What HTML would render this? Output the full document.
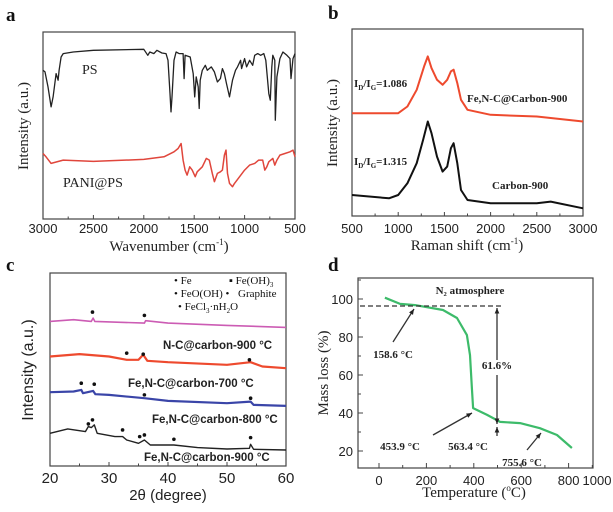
<!DOCTYPE html>
<html><head><meta charset="utf-8"><style>
body{margin:0;background:#fff;}
svg{display:block;}
.tk{font-family:"Liberation Sans",sans-serif;font-size:13px;fill:#222;}
.tt{font-family:"Liberation Serif",serif;font-size:15px;fill:#222;}
.an{font-family:"Liberation Serif",serif;font-size:11px;font-weight:bold;fill:#222;}
.lt{font-family:"Liberation Serif",serif;font-size:19px;font-weight:bold;fill:#111;}
</style></head><body>
<svg id="fig" width="613" height="512" viewBox="0 0 613 512" xmlns="http://www.w3.org/2000/svg">
<g>
<text class="lt" x="6" y="21">a</text>
<text class="tt" x="169" y="251" text-anchor="middle">Wavenumber (cm<tspan dy="-6" font-size="9">-1</tspan><tspan dy="6">)</tspan></text>
<text class="tt" transform="translate(28,126) rotate(-90)" text-anchor="middle">Intensity (a.u.)</text>
<text class="an" x="82" y="74" style="font-weight:normal;font-size:14px">PS</text>
<text class="an" x="63" y="187" style="font-weight:normal;font-size:14px">PANI@PS</text>
</g>
<g>
<text class="lt" x="328" y="19">b</text>
<text class="tt" x="467" y="250" text-anchor="middle">Raman shift (cm<tspan dy="-6" font-size="9">-1</tspan><tspan dy="6">)</tspan></text>
<text class="tt" transform="translate(337,123) rotate(-90)" text-anchor="middle">Intensity (a.u.)</text>
<text class="an" x="354" y="87">I<tspan font-size="7" dy="3">D</tspan><tspan dy="-3">/I</tspan><tspan font-size="7" dy="3">G</tspan><tspan dy="-3">=1.086</tspan></text>
<text class="an" x="467" y="102">Fe,N-C@Carbon-900</text>
<text class="an" x="354" y="165">I<tspan font-size="7" dy="3">D</tspan><tspan dy="-3">/I</tspan><tspan font-size="7" dy="3">G</tspan><tspan dy="-3">=1.315</tspan></text>
<text class="an" x="492" y="189">Carbon-900</text>
</g>
<g>
<text class="lt" x="6" y="271">c</text>
<text x="168" y="500" text-anchor="middle" style="font-family:'Liberation Sans',sans-serif;font-size:15px;fill:#222">2θ (degree)</text>
<text transform="translate(33,370) rotate(-90)" text-anchor="middle" style="font-family:'Liberation Sans',sans-serif;font-size:16px;fill:#222">Intensity (a.u.)</text>
<g style="font-family:'Liberation Serif',serif;font-size:11px;fill:#111">
<text x="174" y="284">• Fe</text>
<text x="229" y="284">▪ Fe(OH)<tspan font-size="7" dy="3">3</tspan></text>
<text x="174" y="297">• FeO(OH) •</text>
<text x="238" y="297">Graphite</text>
<text x="178" y="310">• FeCl<tspan font-size="7" dy="3">3</tspan><tspan dy="-3">·nH</tspan><tspan font-size="7" dy="3">2</tspan><tspan dy="-3">O</tspan></text>
</g>
<g style="font-family:'Liberation Sans',sans-serif;font-size:11.5px;font-weight:bold;fill:#222">
<text x="163" y="349">N-C@carbon-900 °C</text>
<text x="128" y="387">Fe,N-C@carbon-700 °C</text>
<text x="152" y="423">Fe,N-C@carbon-800 °C</text>
<text x="144" y="461">Fe,N-C@carbon-900 °C</text>
</g>
</g>
<g>
<text class="lt" x="328" y="271">d</text>
<text class="tt" x="474" y="497" text-anchor="middle">Temperature (<tspan dy="-6" font-size="9">o</tspan><tspan dy="6">C)</tspan></text>
<text class="tt" transform="translate(328,373) rotate(-90)" text-anchor="middle">Mass loss (%)</text>
</g>
</svg>
<script>
// ---- Panel a data (FTIR) ----
const aPSwn=[3000,2980,2950,2920,2900,2870,2850,2840,2820,2800,2700,2500,2000,1960,1940,1900,1870,1820,1780,1760,1740,1730,1720,1700,1680,1650,1610,1600,1590,1540,1510,1495,1480,1460,1450,1440,1420,1390,1370,1330,1300,1270,1240,1220,1200,1180,1150,1120,1090,1070,1040,1030,1000,980,950,920,900,870,840,810,790,760,745,730,720,700,695,680,650,620,580,550,540,520,500];
const aPSval=[447,442,397,337,367,437,417,447,487,497,502,507,510,492,502,497,507,499,497,477,377,322,367,477,502,497,497,422,492,487,437,367,427,397,332,417,447,462,447,457,442,412,422,452,437,407,367,417,447,457,477,452,482,457,477,462,492,497,492,497,477,377,357,457,492,477,297,427,482,502,492,482,422,482,497];
const aPANIwn=[3000,2970,2920,2800,2500,2000,1800,1700,1660,1630,1610,1590,1570,1545,1520,1490,1470,1420,1380,1350,1320,1300,1270,1240,1220,1200,1185,1170,1150,1120,1100,1050,1000,950,900,860,820,800,780,760,720,700,680,650,600,550,520,500];
const aPANIval=[197,187,167,177,173,179,187,202,212,227,177,147,132,157,147,127,142,157,182,177,137,112,137,142,147,192,207,137,107,97,107,127,147,162,167,177,177,147,157,172,182,162,177,192,197,202,207,187];
const aTicks=[3000,2500,2000,1500,1000,500];
// ---- Panel b data (Raman) ----
const bFeWn=[500,1000,1100,1200,1280,1320,1360,1420,1480,1530,1570,1600,1640,1680,1750,2000,2500,3000];
const bFeVal=[308,308,328,378,448,478,443,408,393,408,433,438,398,348,318,303,298,283];
const bCWn=[500,900,1000,1100,1200,1270,1320,1360,1420,1480,1530,1570,1600,1640,1680,1750,2000,2500,2650,3000];
const bCVal=[63,53,63,98,158,228,283,248,178,133,148,203,218,158,78,48,38,38,43,23];
const bTicks=[500,1000,1500,2000,2500,3000];
// ---- Panel c data (XRD) ----
const cNCx=[20,24,27,27.3,27.6,36,36.2,40,50,60];
const cNCy=[433,438,433,443,433,428,435,428,421,415];
const c700x=[20,25,30,33,35,35.8,36.5,40,50,54,56,60];
const c700y=[328,335,328,318,318,333,315,311,303,311,298,293];
const c800x=[20,24,25.3,25.6,27.3,27.7,30,36,40,50,54,54.5,60];
const c800y=[221,223,228,218,225,215,213,203,195,188,193,183,180];
const c900x=[20,23,26,26.5,27,27.5,28,31,32.3,33,35,36,37,41,45,50,53.8,54,54.5,60];
const c900y=[98,111,103,118,115,123,98,88,88,78,68,78,63,63,55,51,53,65,50,48];
const cMarkX=[27.2,36,33,35.8,53.8,25.3,27.5,36,54,26.5,27.2,32.3,35.2,36,41,54];
const cMarkY=[461,451,338,335,318,248,245,213,203,126,138,108,88,93,80,85];
const cTicks=[20,30,40,50,60];
// ---- Panel d data (TGA) ----
const dT=[25,89,152,270,329,371,384,392,397,456,511,595,679,751,814];
const dM=[100.7,97.4,96.8,94.2,90,81,70.5,53,42.6,39,35.3,34.7,32,28.4,21.6];
const dYTicks=[20,40,60,80,100];
const dXTicks=[0,200,400,600,800,1000];

const NS="http://www.w3.org/2000/svg";
const svg=document.getElementById('fig');
function mk(tag,attrs,parent){const e=document.createElementNS(NS,tag);for(const k in attrs)e.setAttribute(k,attrs[k]);(parent||svg).appendChild(e);return e;}
function lin(d0,d1,r0,r1){return v=>r0+(v-d0)*(r1-r0)/(d1-d0);}
function box(x0,y0,x1,y1,name){const r=mk('rect',{x:x0,y:y0,width:x1-x0,height:y1-y0,fill:'none',stroke:'#444','stroke-width':1.2});

}
function series(xs,ys,sx,sy,color,name,w){const p=mk('path',{d:xs.map((x,i)=>(i?'L':'M')+sx(x).toFixed(1)+','+sy(ys[i]).toFixed(1)).join(''),fill:'none',stroke:color,'stroke-width':w||1.3,'stroke-linejoin':'round'});

}
function xticks(ticks,sx,yb,labelY,name,minor,size){ticks.forEach(t=>{const x=sx(t);mk('line',{x1:x,x2:x,y1:yb,y2:yb-4,stroke:'#444'});
const tx=mk('text',{x:x,y:labelY,'text-anchor':'middle',class:'tk'});tx.textContent=t;if(size)tx.setAttribute('style','font-size:'+size+'px');

});
for(let i=0;i<ticks.length-1;i++){const x=sx((ticks[i]+ticks[i+1])/2);mk('line',{x1:x,x2:x,y1:yb,y2:yb-2.5,stroke:'#444'});}}

// Panel a
{const sx=lin(3000,500,43,295), sy=lin(0,562,219,32);
box(43,32,295,219,'panel-a-plot-area');
series(aPSwn,aPSval,sx,sy,'#222','ps-spectrum');
series(aPANIwn,aPANIval,sx,sy,'#e0463c','pani-ps-spectrum',1.5);
xticks(aTicks,sx,219,233,'panel-a-x');}
// Panel b
{const sx=lin(500,3000,352,583), sy=lin(0,560,216,29);
box(352,29,583,216,'panel-b-plot-area');
series(bFeWn,bFeVal,sx,sy,'#ee4a2e','fenc-raman-spectrum',2);
series(bCWn,bCVal,sx,sy,'#111','carbon-raman-spectrum',2);
xticks(bTicks,sx,216,233,'panel-b-x');}
// Panel c
{const sx=lin(20,60,50,286), sy=lin(0,578,466,273);
box(50,273,286,466,'panel-c-plot-area');
series(cNCx,cNCy,sx,sy,'#cc5cb4','nc-900-pattern',1.6);
series(c700x,c700y,sx,sy,'#ee4a2e','fenc-700-pattern',2.2);
series(c800x,c800y,sx,sy,'#3a45a8','fenc-800-pattern',2.2);
series(c900x,c900y,sx,sy,'#222','fenc-900-pattern',1.4);
cMarkX.forEach((x,i)=>{const c=mk('circle',{cx:sx(x),cy:sy(cMarkY[i]),r:1.8,fill:'#111'});

});
xticks(cTicks,sx,466,483,'panel-c-x',true,15);}
// Panel d
{const sx=lin(0,1000,379,616), sy=lin(20,100,451,299);
box(358,278,593,468,'panel-d-plot-area');
dYTicks.forEach(t=>{const y=sy(t);mk('line',{x1:358,x2:363,y1:y,y2:y,stroke:'#444'});
const tx=mk('text',{x:353,y:y+5,'text-anchor':'end',class:'tk'});tx.textContent=t;


const m=sy(t+10);mk('line',{x1:358,x2:361,y1:m,y2:m,stroke:'#444'});});
dXTicks.forEach(t=>{const x=sx(t);if(x<593){mk('line',{x1:x,x2:x,y1:468,y2:463,stroke:'#444'});const m=sx(t+100);if(m<593)mk('line',{x1:m,x2:m,y1:468,y2:465,stroke:'#444'});}
const tx=mk('text',{x:Math.min(x,597),y:485,'text-anchor':'middle',class:'tk'});tx.textContent=t;

});
series(dT,dM,sx,sy,'#3dbb6a','tga-curve',2.2);
const g=mk('g',{stroke:'#333','stroke-width':1.3,fill:'none'});


mk('line',{x1:360,x2:502,y1:306,y2:306,'stroke-dasharray':'5,3'},g);
const arrows=[[393,342,414,309],[433,435,472,413],[527,450,541,433],[497,360,497,308],[497,375,497,424],[497,436,497,427]];
arrows.forEach(a=>{mk('line',{x1:a[0],y1:a[1],x2:a[2],y2:a[3]},g);const ang=Math.atan2(a[3]-a[1],a[2]-a[0]);const L=6;
mk('path',{d:`M${a[2]},${a[3]}L${a[2]-L*Math.cos(ang-0.4)},${a[3]-L*Math.sin(ang-0.4)}L${a[2]-L*Math.cos(ang+0.4)},${a[3]-L*Math.sin(ang+0.4)}Z`,fill:'#222',stroke:'none'},g);});
const labs=[['N₂ atmosphere',470,294],['158.6 °C',393,358],['61.6%',497,369],['453.9 °C',400,450],['563.4 °C',468,450],['755.6 °C',522,466]];
labs.forEach(l=>{const t=mk('text',{x:l[1],y:l[2],'text-anchor':'middle',class:'an'});t.textContent=l[0];

});}
</script>
</body></html>
